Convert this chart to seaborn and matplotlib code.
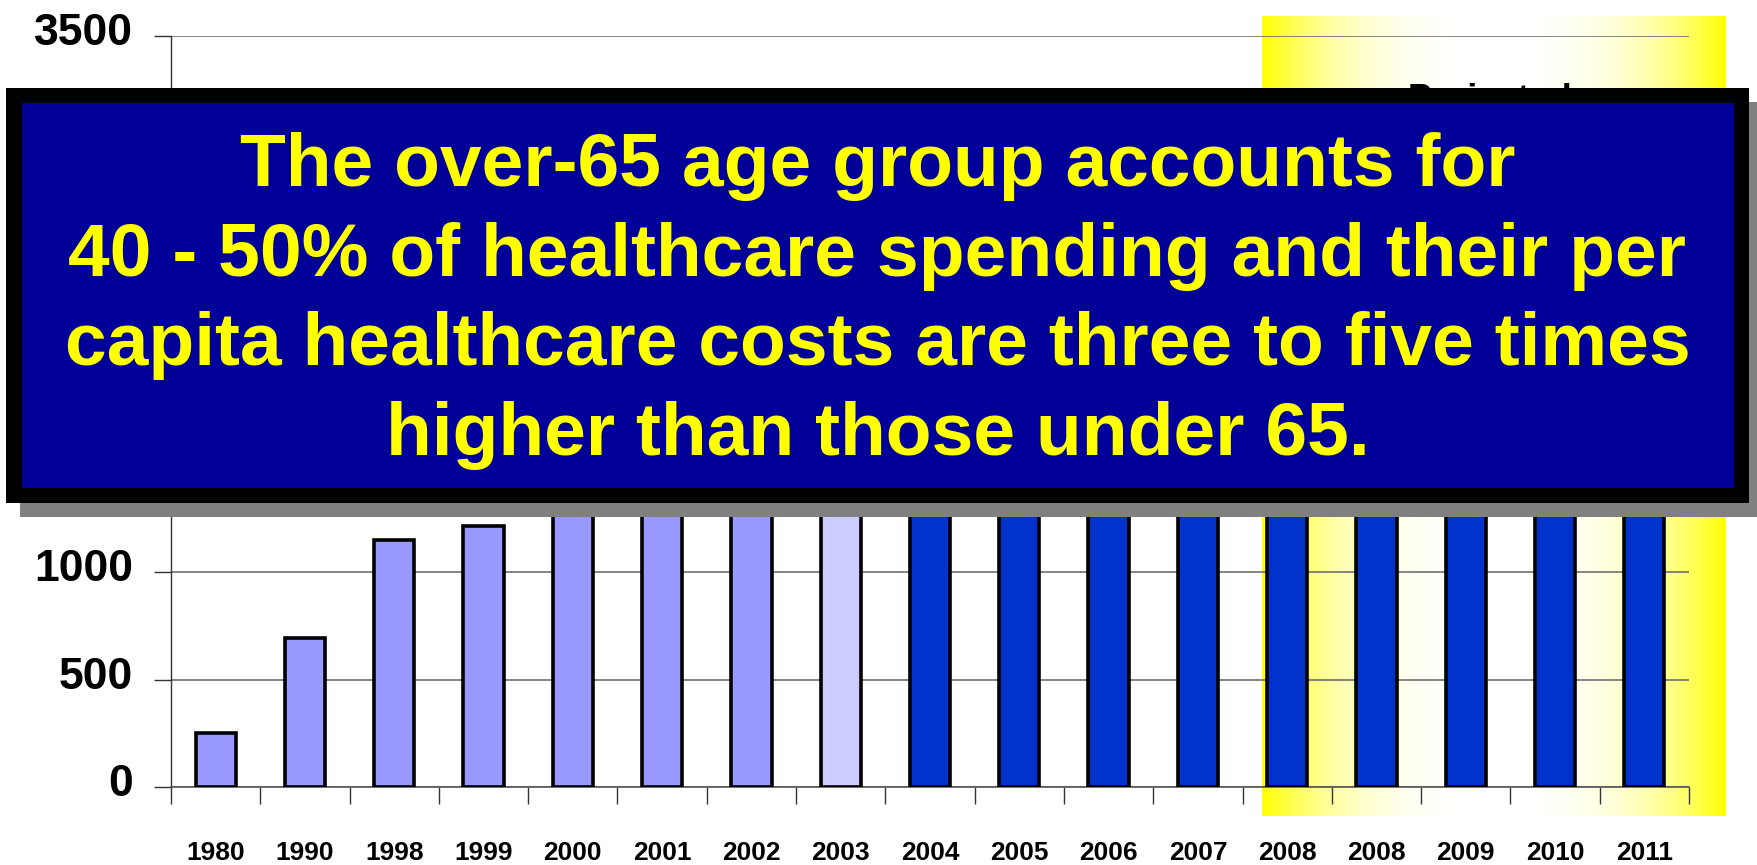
import numpy as np
import pandas as pd
import matplotlib
matplotlib.use("Agg")
import matplotlib.pyplot as plt
import matplotlib.transforms as mtransforms
from matplotlib.patches import Rectangle
import seaborn as sns

# national health spending by year (billions), 2008 shows up twice in the source
years = ['1980', '1990', '1998', '1999', '2000', '2001', '2002', '2003', '2004',
         '2005', '2006', '2007', '2008', '2008', '2009', '2010', '2011']
spending = [253, 696, 1153, 1218, 1311, 1425, 1553, 1660, 1779,
            1907, 2041, 2182, 2335, 2335, 2494, 2658, 2816]
bar_colors = ['#9999FF'] * 7 + ['#CCCCFF'] + ['#0033CC'] * 9
yticks = [0, 500, 1000, 1500, 2000, 2500, 3000, 3500]
# the middle labels sit under the callout box in the original
ytick_labels = ['0', '500', '1000', '', '', '', '', '3500']

headline = ['The over-65 age group accounts for',
            '40 - 50% of healthcare spending and their per',
            'capita healthcare costs are three to five times',
            'higher than those under 65.']

sns.set_style('white')
plt.rcParams['font.family'] = ['Liberation Sans', 'DejaVu Sans']
plt.rcParams['font.weight'] = 'bold'

W, H = 1758, 865
fig = plt.figure(figsize=(W / 100, H / 100), dpi=100)


def px(x0, y0, x1, y1):
    # pixel box (top-left origin) -> figure fraction [left, bottom, width, height]
    return [x0 / W, (H - y1) / H, (x1 - x0) / W, (y1 - y0) / H]


def fig_rect(box, color, z):
    b = px(*box)
    fig.add_artist(Rectangle((b[0], b[1]), b[2], b[3], transform=fig.transFigure,
                             facecolor=color, edgecolor='none', zorder=z))


# yellow "projected" highlight behind the chart
bg = fig.add_axes(px(1262, 16, 1726, 816), zorder=-1)
t = np.abs(np.linspace(-1, 1, 400))
inten = t ** 2.8
grad = np.ones((1, 400, 3))
grad[0, :, 2] = 1 - inten
bg.imshow(grad, aspect='auto', extent=[0, 1, 0, 1])
bg.axis('off')

ax = fig.add_axes(px(171, 36, 1689, 787))
ax.patch.set_alpha(0)

df = pd.DataFrame({'slot': [str(i) for i in range(len(years))], 'value': spending})
sns.barplot(data=df, x='slot', y='value', hue='slot', palette=bar_colors,
            width=0.45, edgecolor='black', linewidth=2.6, saturation=1,
            legend=False, ax=ax, zorder=3)

ax.set_xlim(-0.5, len(years) - 0.5)
ax.set_ylim(0, 3500)
ax.set_yticks(yticks)
ax.set_yticklabels(ytick_labels, fontsize=32, fontweight='bold', color='black')
ax.set_xticks(range(len(years)))
ax.set_xticklabels(years, fontsize=19, fontweight='bold', color='black')
ax.set_xticks(np.arange(-0.5, len(years)), minor=True)
ax.set_xlabel('')
ax.set_ylabel('')

ax.grid(axis='y', color='#707070', linewidth=1.2, zorder=1)
ax.set_axisbelow(True)
for s in ['top', 'right']:
    ax.spines[s].set_visible(False)
ax.spines['left'].set_color('#333333')
ax.spines['left'].set_linewidth(1)
ax.spines['bottom'].set_color('#555555')
ax.spines['bottom'].set_linewidth(1.2)

ax.tick_params(axis='x', which='major', length=0, pad=39, labelcolor='black')
ax.tick_params(axis='x', which='minor', length=12.5, width=1, color='#333333',
               direction='out', bottom=True)
ax.tick_params(axis='y', length=12.5, width=1, color='#333333', direction='out',
               pad=15, left=True, labelcolor='black')
shift = mtransforms.ScaledTranslation(0, 7 / 100, fig.dpi_scale_trans)
for lbl in ax.get_yticklabels():
    lbl.set_transform(lbl.get_transform() + shift)

# partly hidden label in the highlight
fig.text(1490 / W, 1 - 83 / H, 'Projected', ha='center', va='top',
         fontsize=26, fontweight='bold', color='black', zorder=4)

# callout box over the chart: shadow, black frame, blue panel
fig_rect((20, 102, 1763, 517), '#808080', 5)
fig_rect((6, 88, 1749, 503), 'black', 6)
fig_rect((22, 103, 1734, 488), '#000099', 7)

baselines = [186, 276, 365, 455]
for line, yb in zip(headline, baselines):
    fig.text(877.5 / W, 1 - yb / H, line, ha='center', va='baseline',
             fontsize=54, fontweight='bold', color='#FFFF00', zorder=8)

fig.savefig('out.png', dpi=100, facecolor='white')
